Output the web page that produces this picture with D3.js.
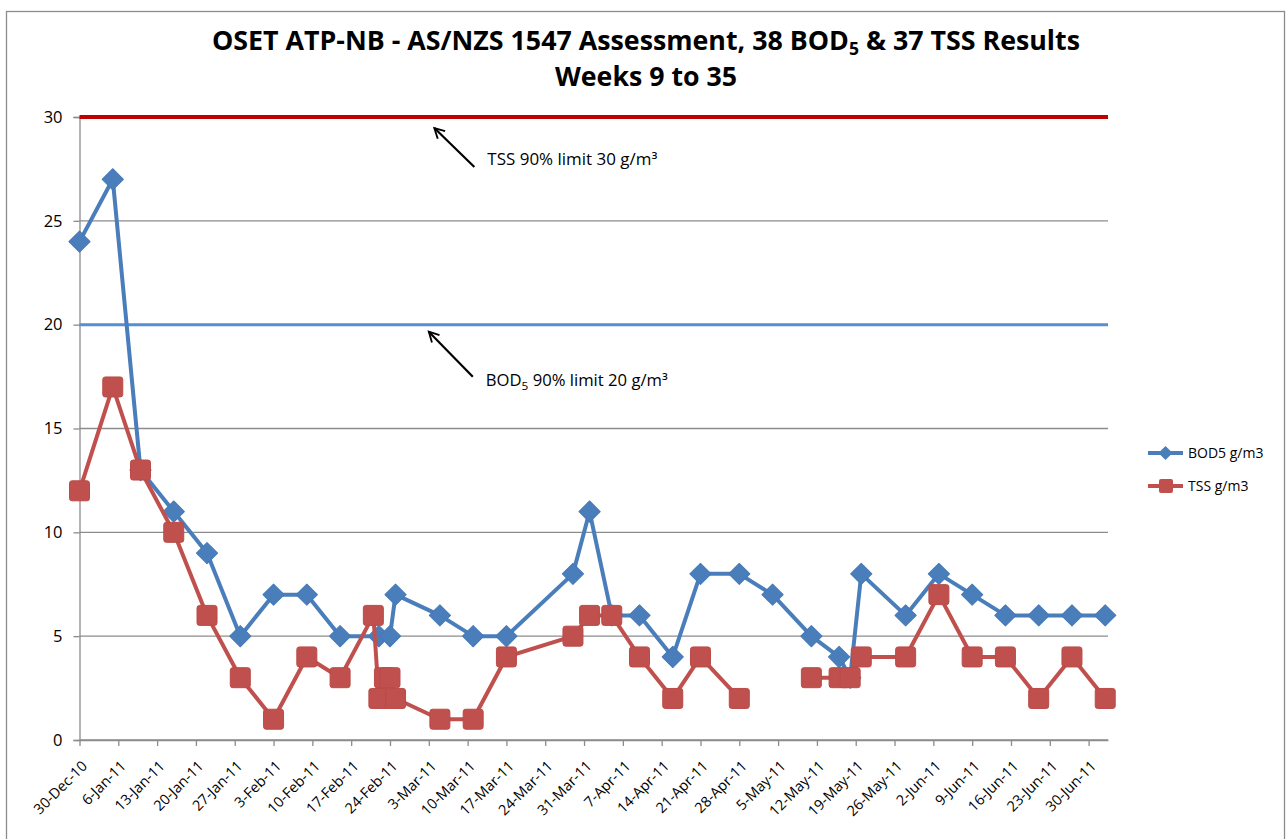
<!DOCTYPE html>
<html>
<head>
<meta charset="utf-8">
<script src="https://cdn.jsdelivr.net/npm/d3@7"></script>
<style>
  body { margin: 0; background: #fff; }
  text { font-family: "Open Sans", "DejaVu Sans", sans-serif; fill: #000; }
</style>
</head>
<body>
<svg id="chart" width="1287" height="839"></svg>
<script>
// sample dates (one row per sample, null = no result for that series)
const dates = [
  '2010-12-30', '2011-01-05', '2011-01-10', '2011-01-16', '2011-01-22', '2011-01-28',
  '2011-02-03', '2011-02-09', '2011-02-15', '2011-02-21', '2011-02-22', '2011-02-23',
  '2011-02-24', '2011-02-25', '2011-03-05', '2011-03-11', '2011-03-17', '2011-03-29',
  '2011-04-01', '2011-04-05', '2011-04-10', '2011-04-16', '2011-04-21', '2011-04-28',
  '2011-05-04', '2011-05-11', '2011-05-16', '2011-05-18', '2011-05-20', '2011-05-28',
  '2011-06-03', '2011-06-09', '2011-06-15', '2011-06-21', '2011-06-27', '2011-07-03'
];
const bod = [24, 27, 13, 11, 9, 5, 7, 7, 5, null, 5, null, 5, 7, 6, 5, 5, 8,
             11, 6, 6, 4, 8, 8, 7, 5, 4, 3, 8, 6, 8, 7, 6, 6, 6, 6];
const tss = [12, 17, 13, 10, 6, 3, 1, 4, 3, 6, 2, 3, 3, 2, 1, 1, 4, 5,
             6, 6, 4, 2, 4, 2, null, 3, 3, 3, 4, 4, 7, 4, 4, 2, 4, 2];
const yTicks = [0, 5, 10, 15, 20, 25, 30];
const limitValues = [30, 20];           // TSS limit, BOD5 limit
const annoDates = ['2011-03-04', '2011-03-03'];
const seriesNames = ['BOD5 g/m3', 'TSS g/m3'];

const BLUE = '#4a7ebb', RED = '#c0504d';
const parse = d3.timeParse('%Y-%m-%d');
const svg = d3.select('#chart');

// chart area border
svg.append('rect')
    .attr('x', 6.5).attr('y', 11.5).attr('width', 1278).attr('height', 850)
    .attr('fill', '#fff').attr('stroke', '#8c8c8c').attr('stroke-width', 1.3);

let x = d3.scaleTime()
    .domain([parse('2010-12-30'), d3.timeHour.offset(parse('2011-07-03'), 12)])
    .range([79.5, 1108]);
let y = d3.scaleLinear().domain([0, 30]).range([740, 117]);

// title
let title = svg.append('g').attr('font-weight', 'bold').attr('font-size', 26);
let t1 = title.append('text').attr('x', 212).attr('y', 50)
    .attr('textLength', 868).attr('lengthAdjust', 'spacingAndGlyphs');
t1.append('tspan').text('OSET ATP-NB - AS/NZS 1547 Assessment, 38 BOD');
t1.append('tspan').text('5').attr('font-size', 17).attr('dy', 5);
t1.append('tspan').text(' & 37 TSS Results').attr('dy', -5);
title.append('text').attr('x', 555).attr('y', 86)
    .attr('textLength', 182).attr('lengthAdjust', 'spacingAndGlyphs')
    .text('Weeks 9 to 35');

// horizontal gridlines
svg.append('g').selectAll('line').data(yTicks).enter().append('line')
    .attr('x1', x.range()[0]).attr('x2', x.range()[1])
    .attr('y1', d => y(d)).attr('y2', d => y(d))
    .attr('stroke', '#8c8c8c').attr('stroke-width', 1.3);

// y axis
let yAxis = svg.append('g').attr('transform', `translate(${x.range()[0]}, 0)`)
    .call(d3.axisLeft(y).tickValues(yTicks).tickSize(6).tickPadding(11));
yAxis.selectAll('line, path').attr('stroke', '#8c8c8c').attr('stroke-width', 1.3);
yAxis.selectAll('text').attr('font-size', 16.5).attr('font-family', '"Open Sans", sans-serif');

// x axis, one tick a week
let xTicks = d3.timeThursday.range(parse('2010-12-30'), parse('2011-07-01'));
let xAxis = svg.append('g').attr('transform', `translate(0, ${y(0)})`)
    .call(d3.axisBottom(x).tickValues(xTicks).tickFormat(d3.timeFormat('%-d-%b-%y'))
        .tickSize(6).tickSizeOuter(0));
xAxis.selectAll('line, path').attr('stroke', '#8c8c8c').attr('stroke-width', 1.3);
xAxis.selectAll('text')
    .attr('font-size', 14.5).attr('font-family', '"Open Sans", sans-serif')
    .attr('text-anchor', 'end').attr('y', 0).attr('dy', 0)
    .attr('transform', 'translate(8, 27) rotate(-45)');

// limit lines
svg.append('g').selectAll('line').data(limitValues).enter().append('line')
    .attr('x1', x.range()[0]).attr('x2', x.range()[1])
    .attr('y1', d => y(d)).attr('y2', d => y(d))
    .attr('stroke', (d, i) => i === 0 ? '#c00000' : '#558ed5')
    .attr('stroke-width', (d, i) => i === 0 ? 4 : 3);

// annotations with arrows
svg.append('defs').append('marker').attr('id', 'head')
    .attr('viewBox', '0 0 10 10').attr('refX', 8.5).attr('refY', 5)
    .attr('markerWidth', 6).attr('markerHeight', 6).attr('orient', 'auto')
    .append('path').attr('d', 'M1,1 L8.5,5 L1,9').attr('fill', 'none')
    .attr('stroke', '#000').attr('stroke-width', 1.4);

let anno = svg.append('g');
annoDates.forEach((d, i) => {
  let hx = x(parse(d));
  let hy = y(limitValues[i]) + (i === 0 ? 11 : 7);
  let tx = hx + (i === 0 ? 40 : 44), ty = hy + (i === 0 ? 39 : 45);
  anno.append('line').attr('x1', tx).attr('y1', ty).attr('x2', hx).attr('y2', hy)
      .attr('stroke', '#000').attr('stroke-width', 2.2)
      .attr('marker-end', 'url(#head)');
  let label = anno.append('text').attr('font-size', 15.5)
      .attr('x', tx + 13).attr('y', ty + (i === 0 ? -2 : 9));
  if (i === 0) {
    label.attr('textLength', 170).attr('lengthAdjust', 'spacingAndGlyphs')
        .text(`TSS 90% limit ${limitValues[i]} g/m³`);
  } else {
    label.attr('textLength', 182).attr('lengthAdjust', 'spacingAndGlyphs');
    label.append('tspan').text('BOD');
    label.append('tspan').text('5').attr('font-size', 11).attr('dy', 4);
    label.append('tspan').text(` 90% limit ${limitValues[i]} g/m³`).attr('dy', -4);
  }
});

// series rows
let bodRows = dates.map((d, i) => ({date: parse(d), v: bod[i]})).filter(d => d.v !== null);
let tssRows = dates.map((d, i) => ({date: parse(d), v: tss[i]}));

let line = d3.line().defined(d => d.v !== null).x(d => x(d.date)).y(d => y(d.v));

let diamond = d3.symbol().type(d3.symbolSquare).size(225);

// BOD5
svg.append('path').datum(bodRows).attr('d', line)
    .attr('fill', 'none').attr('stroke', BLUE).attr('stroke-width', 4)
    .attr('stroke-linejoin', 'round');
svg.append('g').selectAll('path').data(bodRows).enter().append('path')
    .attr('d', diamond)
    .attr('transform', d => `translate(${x(d.date)}, ${y(d.v)}) rotate(45)`)
    .attr('fill', BLUE).attr('stroke', '#4579b8').attr('stroke-width', 1)
    .attr('stroke-linejoin', 'round');

// TSS
svg.append('path').datum(tssRows).attr('d', line)
    .attr('fill', 'none').attr('stroke', RED).attr('stroke-width', 4)
    .attr('stroke-linejoin', 'round');
svg.append('g').selectAll('rect').data(tssRows.filter(d => d.v !== null)).enter().append('rect')
    .attr('x', d => x(d.date) - 10).attr('y', d => y(d.v) - 10)
    .attr('width', 20).attr('height', 20).attr('rx', 2.5)
    .attr('fill', RED).attr('stroke', '#bb4b48').attr('stroke-width', 1);

// legend
let legend = svg.append('g').selectAll('g').data(seriesNames).enter().append('g')
    .attr('transform', (d, i) => `translate(1148, ${453 + i * 33})`);
legend.append('line').attr('x1', 0).attr('x2', 35)
    .attr('stroke', (d, i) => i === 0 ? BLUE : RED).attr('stroke-width', 4);
legend.filter((d, i) => i === 0).append('path')
    .attr('d', d3.symbol().type(d3.symbolSquare).size(100))
    .attr('transform', 'translate(17.5, 0) rotate(45)').attr('fill', BLUE);
legend.filter((d, i) => i === 1).append('rect')
    .attr('x', 11).attr('y', -7).attr('width', 14).attr('height', 14).attr('rx', 2)
    .attr('fill', RED);
legend.append('text').attr('x', 40).attr('y', 5).attr('font-size', 14).text(d => d);
</script>
</body>
</html>
